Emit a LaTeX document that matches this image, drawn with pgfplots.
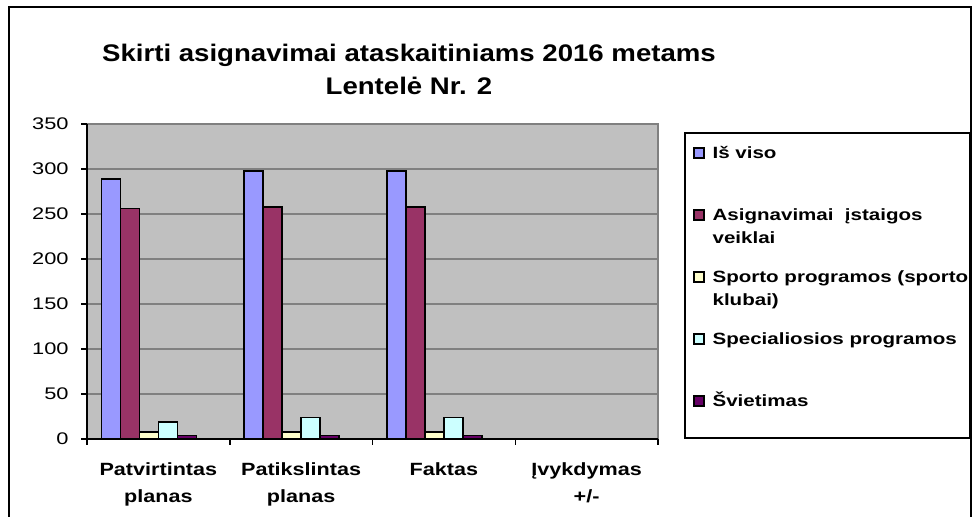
\documentclass[border=0pt]{standalone}
\usepackage{fontspec}
\setmainfont{Liberation Sans}
\newfontfamily\titlefont[FakeStretch=1.15]{Liberation Sans}
\newfontfamily\catfont[FakeStretch=1.22]{Liberation Sans}
\newfontfamily\legfont[FakeStretch=1.26]{Liberation Sans}
\newfontfamily\tickfont[FakeStretch=1.3]{Liberation Sans}
\usepackage{pgfplots}
\pgfplotsset{compat=1.18}
\definecolor{sBlue}{HTML}{9999FF}
\definecolor{sMaroon}{HTML}{993366}
\definecolor{sYellow}{HTML}{FFFFCC}
\definecolor{sCyan}{HTML}{CCFFFF}
\definecolor{sPurple}{HTML}{660066}
\definecolor{plotgray}{HTML}{C0C0C0}
\definecolor{gridgray}{HTML}{808080}
\pgfplotsset{mybar/.style={ybar, bar width=0.13333, draw=black, line width=0.75pt,
  legend image code/.code={\draw[##1,line width=0.6pt] (0pt,0pt) rectangle (5pt,5pt);}}}
\newcommand{\twoline}[2]{\begin{tabular}[t]{@{}l@{}}#1\\#2\end{tabular}}
\begin{document}
\begin{tikzpicture}
\begin{axis}[
 at={(0pt,0pt)}, anchor=south west,
 scale only axis, width=285.5pt, height=157.5pt,
 xmin=-0.5, xmax=3.5, ymin=0, ymax=350,
 axis lines*=left,
 axis line style={line width=1pt, black},
 axis background/.style={fill=plotgray, draw=gridgray, line width=0.75pt},
 ytick={0,50,...,350},
 ymajorgrids, major grid style={gridgray, line width=0.75pt},
 tick align=outside, major tick length=3pt,
 tick style={black, line width=0.75pt},
 xtick={-0.5,0.5,1.5,2.5,3.5}, xticklabels={},
 extra x ticks={0,1,2,3},
 extra x tick labels={{Patvirtintas\\[3pt]planas},{Patikslintas\\[3pt]planas},{Faktas},{Įvykdymas\\[3pt]+/-}},
 extra x tick style={major tick length=0pt},
 xticklabel style={font=\fontsize{8.85}{10.6}\catfont\bfseries, align=center, anchor=north, inner sep=0pt, yshift=-11.5pt},
 yticklabel style={font=\fontsize{8.4}{10}\tickfont, anchor=east, inner sep=0pt, xshift=-6pt},
 /pgf/number format/assume math mode=true,
 legend style={at={(1.0613,0.9311)}, anchor=north west, draw=none, fill=none, inner sep=0pt,
   column sep=4pt, row sep=6pt,
   font=\fontsize{8.15}{11.75}\legfont\bfseries,
   nodes={anchor=base west, text height=6pt, text depth=19pt, inner sep=0pt}},
]
\addplot[mybar, bar shift=-0.33333, fill=sBlue] coordinates {(0,289) (1,298) (2,298)};
\addlegendentry{Iš viso}
\addplot[mybar, bar shift=-0.2, fill=sMaroon] coordinates {(0,256) (1,258) (2,258)};
\addlegendentry{\twoline{Asignavimai~ įstaigos}{veiklai}}
\addplot[mybar, bar shift=-0.066667, fill=sYellow] coordinates {(0,8) (1,8) (2,8)};
\addlegendentry{\twoline{Sporto programos (sporto}{klubai)}}
\addplot[mybar, bar shift=0.066667, fill=sCyan] coordinates {(0,19) (1,24) (2,24)};
\addlegendentry{Specialiosios programos}
\addplot[mybar, bar shift=0.2, fill=sPurple] coordinates {(0,4) (1,4) (2,4)};
\addlegendentry{Švietimas}
\end{axis}
\draw[line width=0.75pt] (299pt,0.5pt) rectangle (441.5pt,153pt);
\node[anchor=base, font=\fontsize{12}{14}\titlefont\bfseries] at (161pt,188.75pt) {Skirti asignavimai ataskaitiniams 2016 metams};
\node[anchor=base, font=\fontsize{12}{14}\titlefont\bfseries] at (161pt,172.35pt) {Lentelė Nr. 2};
\draw[line width=1pt] (-39pt,-45pt) -- (-39pt,216pt) -- (442pt,216pt) -- (442pt,-45pt);
\pgfresetboundingbox
\useasboundingbox (-43.5pt,-39pt) rectangle (445pt,219.5pt);
\end{tikzpicture}
\end{document}
